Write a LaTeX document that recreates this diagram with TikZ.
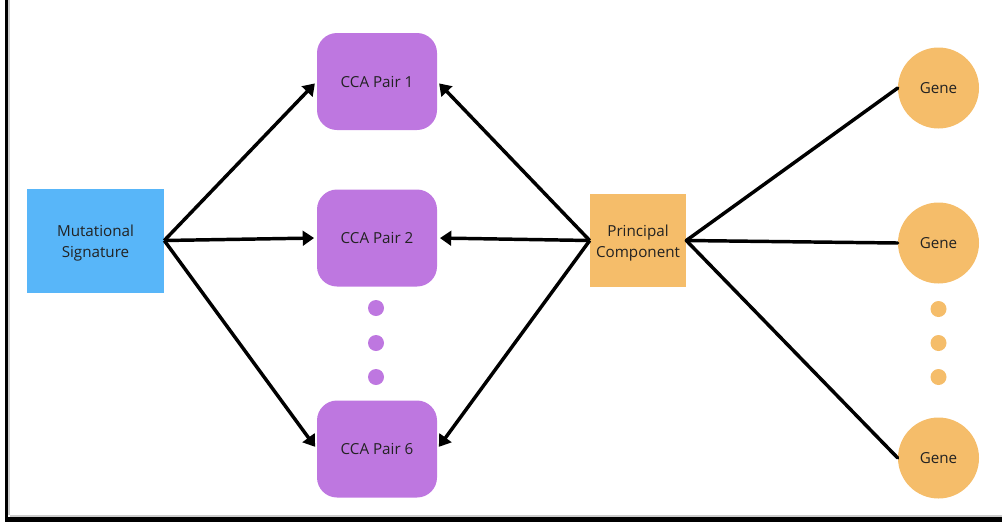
\documentclass[tikz,border=0pt]{standalone}
\usepackage{fontspec}
\setmainfont{Open Sans}
\usetikzlibrary{arrows.meta}
\definecolor{msblue}{HTML}{58B6F9}
\definecolor{ccapurple}{HTML}{BE77E0}
\definecolor{pcorange}{HTML}{F5BD6A}
\definecolor{txt}{HTML}{222222}
\tikzset{
  box/.style={draw=none, inner sep=0pt, align=center, text=txt, font=\fontsize{11.4}{15.75}\selectfont},
  msbox/.style={box, fill=msblue, minimum width=137*0.75pt, minimum height=104*0.75pt},
  ccabox/.style={box, fill=ccapurple, rounded corners=15pt, minimum width=120*0.75pt, minimum height=97*0.75pt},
  pcbox/.style={box, fill=pcorange, minimum width=96*0.75pt, minimum height=93*0.75pt},
  genebox/.style={box, circle, fill=pcorange, minimum size=81*0.75pt},
  pdot/.style={circle, fill=ccapurple, inner sep=0pt, minimum size=16*0.75pt},
  odot/.style={circle, fill=pcorange, inner sep=0pt, minimum size=16*0.75pt},
  arr/.style={line width=2.6pt, -{Triangle[length=8.5pt, width=11pt]}, shorten >=2pt},
  ln/.style={line width=2.6pt, line cap=round},
  lbl/.style={yshift=-2pt},
}
\begin{document}
\begin{tikzpicture}[x=0.75pt, y=-0.75pt]
\useasboundingbox (0,0) rectangle (1002,522);
% frame
\fill[black] (5,0) rectangle (8,522);
\fill[gray!40] (8,0) rectangle (9.5,515);
\fill[black] (5,516.5) rectangle (1002,522);
\fill[gray!40] (9.5,515) rectangle (1002,516.5);
% nodes
\node[msbox] (ms) at (95.5,240.5) {};
\node[ccabox] (c1) at (377,81.5) {CCA Pair 1};
\node[ccabox] (c2) at (377,238) {CCA Pair 2};
\node[ccabox] (c6) at (377,449) {CCA Pair 6};
\node[pcbox] (pc) at (638,240.5) {};
\node[box, lbl] (mst) at (ms.center) {Mutational\\Signature};
\node[box, lbl] (pct) at (pc.center) {Principal\\Component};
\node[genebox] (g1) at (938.5,88) {Gene};
\node[genebox] (g2) at (938.5,243) {Gene};
\node[genebox] (g3) at (938.5,458) {Gene};
\node[pdot] (p1) at (376,308) {};
\node[pdot] (p2) at (376,343) {};
\node[pdot] (p3) at (376,377) {};
\node[odot] (o1) at (938.5,309) {};
\node[odot] (o2) at (938.5,343) {};
\node[odot] (o3) at (938.5,377) {};
% connectors
\draw[arr] (ms.east) -- (c1.west);
\draw[arr] (ms.east) -- (c2.west);
\draw[arr] (ms.east) -- (c6.west);
\draw[arr] (pc.west) -- (c1.east);
\draw[arr] (pc.west) -- (c2.east);
\draw[arr] (pc.west) -- (c6.east);
\draw[ln] (pc.east) -- (g1.west);
\draw[ln] (pc.east) -- (g2.west);
\draw[ln] (pc.east) -- (g3.west);
\end{tikzpicture}
\end{document}
